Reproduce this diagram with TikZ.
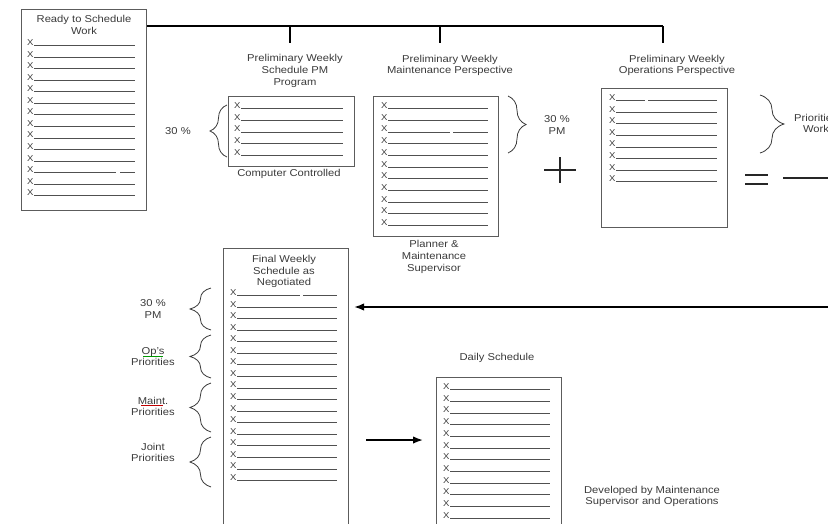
\documentclass[tikz,border=0pt]{standalone}
\usepackage{fontspec}
\setmainfont{Liberation Sans}[FakeStretch=1.12]
\usetikzlibrary{arrows.meta,decorations.pathreplacing,calc}
\definecolor{sh-text}{HTML}{3A3A3A}
\definecolor{sh-frame}{HTML}{5C5C5C}
\definecolor{sh-rule}{HTML}{505050}

\begin{document}
\begin{tikzpicture}[
    x=1pt, y=-1pt,
    font=\fontsize{10}{11.6}\selectfont,
    >=Latex
  ]
  \tikzset{
    sheet/.style={draw=sh-frame, line width=1.1pt, anchor=north west, inner sep=0pt},
    caption/.style={text=sh-text, align=center, inner sep=0pt},
    xmark/.style={text=sh-text, anchor=base west, inner sep=0pt, font=\fontsize{8.5}{9}\selectfont},
    rule/.style={draw=sh-rule, line width=0.8pt},
    bus/.style={draw=black, line width=2.4pt},
    arrow/.style={-{Latex[length=10pt,width=7.5pt]}, black, line width=1.6pt},
    curly/.style={decorate, decoration={brace, amplitude=#1}, draw=sh-text, line width=0.8pt},
    sign/.style={draw=black!85, line width=1.8pt}
  }
  \useasboundingbox (0,0) rectangle (828,523);
  \clip (0,0) rectangle (828,523);

  % sheets
  \node (ready) [sheet, minimum width=125pt, minimum height=201pt] at (21,9) {};
  \node (pmprog) [sheet, minimum width=126pt, minimum height=70pt] at (228,96) {};
  \node (maint) [sheet, minimum width=125pt, minimum height=140pt] at (373,96) {};
  \node (oper) [sheet, minimum width=126pt, minimum height=139pt] at (601,88) {};
  \node (final) [sheet, minimum width=125pt, minimum height=300pt] at (223,248) {};
  \node (daily) [sheet, minimum width=125pt, minimum height=200pt] at (436,377) {};

  % titles
  \node (readyT) [caption] at (84,25) {Ready to Schedule\\Work};
  \node (pmprogT) [caption] at (295,71) {Preliminary Weekly\\Schedule PM\\Program};
  \node (pmprogB) [caption] at (289,174) {Computer Controlled};
  \node (maintT) [caption] at (450,65.5) {Preliminary Weekly\\Maintenance Perspective};
  \node (maintB) [caption] at (434,257) {Planner \&\\Maintenance\\Supervisor};
  \node (operT) [caption] at (677,65.5) {Preliminary Weekly\\Operations Perspective};
  \node (finalT) [caption] at (284,271.5) {Final Weekly\\Schedule as\\Negotiated};
  \node (dailyT) [caption] at (497,358) {Daily Schedule};
  \node (dailyB) [caption] at (652,496.5) {Developed by Maintenance\\Supervisor and Operations};

  % rows of work
  \foreach \i in {0,...,13} {
    \node (ready-x\i) [xmark] at (27,45.5+11.55*\i) {X};
    \draw[rule] (ready-x\i.base east) -- (135,45.5+11.55*\i);
  }
  \foreach \i in {0,...,4} {
    \node (pmprog-x\i) [xmark] at (234,108.5+11.7*\i) {X};
    \draw[rule] (pmprog-x\i.base east) -- (343,108.5+11.7*\i);
  }
  \foreach \i in {0,...,10} {
    \node (maint-x\i) [xmark] at (381,108.5+11.7*\i) {X};
    \draw[rule] (maint-x\i.base east) -- (488,108.5+11.7*\i);
  }
  \foreach \i in {0,...,7} {
    \node (oper-x\i) [xmark] at (609,100.5+11.6*\i) {X};
    \draw[rule] (oper-x\i.base east) -- (717,100.5+11.6*\i);
  }
  \foreach \i in {0,...,16} {
    \node (final-x\i) [xmark] at (230,295.5+11.56*\i) {X};
    \draw[rule] (final-x\i.base east) -- (337,295.5+11.56*\i);
  }
  \foreach \i in {0,...,11} {
    \node (daily-x\i) [xmark] at (443,389.5+11.7*\i) {X};
    \draw[rule] (daily-x\i.base east) -- (550,389.5+11.7*\i);
  }
  % small breaks in some rules
  \draw[white, line width=2pt] (116,172.55) -- (120,172.55);
  \draw[white, line width=2pt] (450,131.9) -- (453,131.9);
  \draw[white, line width=2pt] (645,100.5) -- (648,100.5);
  \draw[white, line width=2pt] (300,295.5) -- (303,295.5);

  % bus from the ready list
  \coordinate (b1) at (290,26);
  \coordinate (b2) at (440,26);
  \coordinate (b3) at (663,26);
  \draw[bus] ($(ready.north east)+(0,17)$) -- (b3);
  \draw[bus] (b1) -- ++(0,17);
  \draw[bus] (b2) -- ++(0,17);
  \draw[bus] (b3) -- ++(0,17);

  % braces and their labels
  \draw[curly=17pt] (227,157) -- (227,105);
  \node (pct1) [caption] at (178,131) {30 \%};
  \draw[curly=18pt] (508,96) -- (508,153);
  \node (pct2) [caption] at (557,125) {30 \%\\PM};
  \draw[curly=24pt] (760,95) -- (760,153);
  \node (prio) [caption] at (816,123.5) {Priorities\\Work};

  \draw[curly=21pt] (211,330) -- (211,288);
  \draw[curly=21pt] (211,378) -- (211,335);
  \draw[curly=21pt] (211,432) -- (211,383);
  \draw[curly=21pt] (211,487) -- (211,437);
  \node (fpm) [caption] at (153,309) {30 \%\\PM};
  \node (fops) [caption] at (153,356.5) {Op's\\Priorities};
  \node (fmnt) [caption] at (153,406.5) {Maint.\\Priorities};
  \node (fjnt) [caption] at (153,452.5) {Joint\\Priorities};
  \draw[green!60!black, line width=0.6pt] (143,356) -- (163,356);
  \draw[red!75!black, line width=0.6pt] (141,405.5) -- (163,405.5);

  % plus and equals
  \draw[sign] (544,170) -- (576,170) (560,157) -- (560,183);
  \draw[sign, line width=2.2pt] (745,175) -- (768,175) (745,184) -- (768,184);
  \coordinate (eqL) at (783,178);
  \coordinate (eqR) at (830,178);
  \draw[sign] (eqL) -- (eqR);

  % arrows
  \coordinate (back) at (830,307);
  \draw[arrow, shorten >=5pt] (back) -- (final.east |- back);
  \coordinate (mid) at (0,440);
  \draw[arrow, shorten <=17pt, shorten >=13pt] (final.east |- mid) -- (daily.west |- mid);
\end{tikzpicture}
\end{document}
